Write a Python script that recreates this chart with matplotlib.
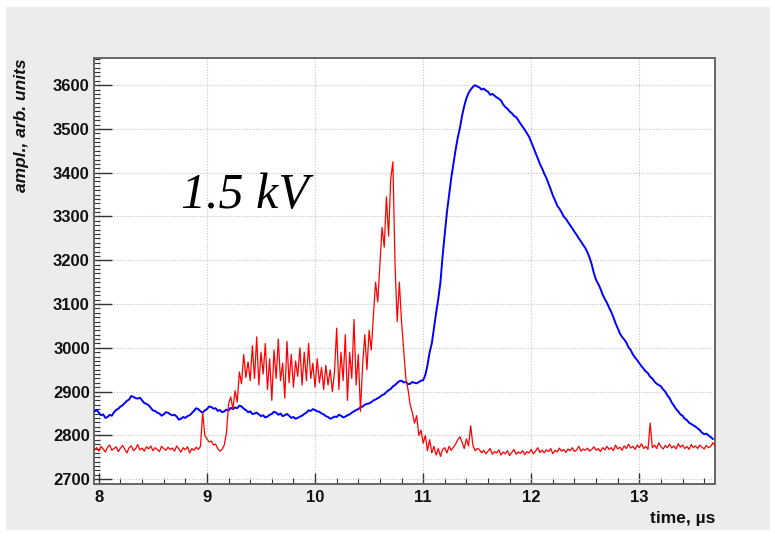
#!/usr/bin/env python3
"""Scope traces at 1.5 kV: two channels vs time."""
import numpy as np
import matplotlib
matplotlib.use('Agg')
import matplotlib.pyplot as plt
from matplotlib.patches import Rectangle
from matplotlib.ticker import MultipleLocator

# --- sampled traces -------------------------------------------------------
# blue channel, sampled every 0.02 us starting at 7.96 us
blue_t0, blue_dt = 7.96, 0.02
blue_amp = [
    2855, 2858, 2852, 2846, 2848, 2840, 2842, 2847, 2845, 2853,
    2858, 2861, 2866, 2869, 2874, 2879, 2882, 2890, 2888, 2885,
    2884, 2886, 2880, 2874, 2872, 2869, 2863, 2857, 2856, 2852,
    2850, 2845, 2848, 2853, 2852, 2848, 2846, 2847, 2843, 2836,
    2838, 2842, 2840, 2844, 2846, 2851, 2856, 2862, 2860, 2855,
    2852, 2857, 2860, 2866, 2865, 2861, 2862, 2856, 2858, 2853,
    2855, 2859, 2857, 2863, 2860, 2864, 2862, 2868, 2866, 2861,
    2858, 2853, 2855, 2849, 2850, 2852, 2848, 2844, 2846, 2841,
    2843, 2847, 2849, 2854, 2852, 2847, 2850, 2844, 2846, 2849,
    2845, 2840, 2842, 2838, 2840, 2843, 2845, 2849, 2852, 2857,
    2856, 2860, 2858, 2855, 2854, 2850, 2848, 2844, 2842, 2838,
    2840, 2843, 2842, 2847, 2845, 2841, 2843, 2846, 2848, 2852,
    2855, 2858, 2860, 2864, 2866, 2870, 2872, 2873, 2876, 2880,
    2882, 2885, 2888, 2892, 2894, 2899, 2903, 2906, 2912, 2915,
    2920, 2924, 2925, 2921, 2922, 2917, 2918, 2922, 2920, 2919,
    2922, 2925, 2926, 2938, 2960, 2990, 3010, 3045, 3080, 3112,
    3150, 3210, 3260, 3310, 3350, 3388, 3420, 3452, 3480, 3502,
    3530, 3552, 3570, 3582, 3590, 3596, 3600, 3597, 3595, 3590,
    3592, 3588, 3585, 3578, 3580, 3576, 3572, 3569, 3565, 3556,
    3550, 3546, 3540, 3536, 3530, 3527, 3520, 3512, 3505, 3498,
    3490, 3482, 3470, 3458, 3445, 3433, 3420, 3410, 3398, 3388,
    3375, 3362, 3348, 3337, 3325, 3318, 3310, 3300, 3295, 3287,
    3280, 3273, 3265, 3258, 3250, 3243, 3235, 3228, 3218, 3206,
    3190, 3170, 3155, 3146, 3135, 3122, 3112, 3103, 3092, 3082,
    3070, 3056, 3045, 3033, 3025, 3019, 3012, 3001, 2995, 2985,
    2978, 2972, 2965, 2958, 2952, 2946, 2942, 2934, 2930, 2923,
    2918, 2915, 2912, 2905, 2900, 2891, 2885, 2875, 2868, 2860,
    2855, 2848, 2845, 2838, 2835, 2829, 2826, 2823, 2820, 2816,
    2812, 2806, 2803, 2804, 2800, 2796, 2792,
]

# red channel, sampled every 0.02 us starting at 7.96 us
red_t0, red_dt = 7.96, 0.02
red_amp = [
    # 7.96 .. 8.94 baseline
    2768, 2772, 2764, 2775, 2769, 2762, 2773, 2778, 2766, 2770,
    2774, 2763, 2771, 2777, 2768, 2760, 2772, 2776, 2765, 2770,
    2779, 2767, 2771, 2764, 2774, 2769, 2776, 2765, 2772, 2768,
    2763, 2775, 2770, 2766, 2773, 2768, 2771, 2764, 2776, 2769,
    2762, 2772, 2767, 2774, 2760, 2770, 2766, 2773, 2768, 2775,
    # 8.96 .. 9.38 first spike and step up
    2852, 2800, 2792, 2785, 2787, 2778, 2780, 2770, 2764, 2768,
    2778, 2805, 2872, 2888, 2860, 2902, 2876, 2945, 2918, 2985,
    2932, 2968,
    # 9.40 .. 10.48 noisy plateau
    2925, 3005, 2930, 3025, 2915, 2990, 2940, 3010, 2905, 2975,
    2880, 2995, 2930, 3020, 2925, 2965, 2885, 3015, 2920, 2985,
    2910, 2970, 2935, 3000, 2915, 2990, 2925, 3010, 2930, 2965,
    2910, 2975, 2920, 2955, 2905, 2960, 2915, 2950, 2900, 2945,
    3045, 2905, 2990, 2925, 3030, 2880, 2990, 2930, 3065, 2915,
    2985, 2855, 2960, 3030, 2950,
    # 10.50 .. 11.00 main peak
    3040, 2995, 3075, 3150, 3105, 3190, 3275, 3230, 3345, 3255,
    3385, 3425, 3190, 3060, 3150, 3060, 2995, 2930, 2905, 2870,
    2852, 2828, 2845, 2800, 2812, 2782,
    # 11.02 .. 11.50 tail
    2800, 2765, 2790, 2760, 2775, 2755, 2770, 2752, 2768, 2772,
    2760, 2775, 2766, 2773, 2780, 2790, 2797, 2784, 2770, 2792,
    2776, 2822, 2778, 2765, 2770,
    # 11.52 .. 13.70 baseline
    2768, 2760, 2766, 2758, 2764, 2770, 2757, 2763, 2760, 2767,
    2755, 2762, 2758, 2765, 2754, 2761, 2768, 2757, 2762, 2759,
    2765, 2756, 2763, 2760, 2768, 2758, 2764, 2772, 2761, 2766,
    2760, 2767, 2763, 2770, 2758, 2766, 2762, 2771, 2764, 2768,
    2761, 2769, 2765, 2772, 2763, 2767, 2775, 2764, 2769, 2766,
    2771, 2764, 2768, 2774, 2766, 2770, 2763, 2772, 2767, 2775,
    2768, 2772, 2765, 2778, 2769, 2773, 2766, 2776, 2770, 2780,
    2771, 2775, 2768, 2778, 2772, 2781, 2770, 2775, 2768, 2828,
    2772, 2778, 2770, 2783, 2774, 2769, 2777, 2772, 2780, 2771,
    2776, 2769, 2781, 2773, 2778, 2770, 2775, 2768, 2779, 2772,
    2776, 2770, 2778, 2773, 2769, 2777, 2772, 2775, 2783, 2776,
]

voltage_label = '1.5 kV'
x_title = 'time, \u00b5s'
y_title = 'ampl., arb. units'

blue_t = np.round(blue_t0 + blue_dt * np.arange(len(blue_amp)), 3)
red_t = np.round(red_t0 + red_dt * np.arange(len(red_amp)), 3)

SANS = ['Liberation Sans', 'DejaVu Sans']

fig = plt.figure(figsize=(7.75, 5.36), dpi=100, facecolor='white')
# grey canvas behind the frame
fig.patches.append(Rectangle((6 / 775, 6 / 536), 764 / 775, 523 / 536,
                             transform=fig.transFigure, facecolor='#ececec',
                             edgecolor='none', zorder=-10))

ax = fig.add_axes([94 / 775, 1 - 484 / 536, 621 / 775, 426 / 536])
ax.set_zorder(1)
ax.set_facecolor('white')

ax.plot(blue_t, blue_amp, color='#0000ff', linewidth=1.4, zorder=3)
ax.plot(red_t, red_amp, color='#ff0000', linewidth=0.9, zorder=4)

ax.set_xlim(7.955, 13.70)
ax.set_ylim(2689, 3662)

ax.xaxis.set_major_locator(MultipleLocator(1))
ax.xaxis.set_minor_locator(MultipleLocator(0.2))
ax.yaxis.set_major_locator(MultipleLocator(100))
ax.yaxis.set_minor_locator(MultipleLocator(10))

ax.tick_params(axis='x', which='major', direction='in', length=8, width=1.0,
               color='#333333', pad=4)
ax.tick_params(axis='x', which='minor', direction='in', length=4.5, width=0.8,
               color='#333333')
ax.tick_params(axis='y', which='major', direction='in', length=13, width=1.0,
               color='#333333', pad=3)
ax.tick_params(axis='y', which='minor', direction='in', length=4.5, width=0.8,
               color='#333333')

for lab in ax.get_xticklabels() + ax.get_yticklabels():
    lab.set_family(SANS)
    lab.set_fontweight('bold')
    lab.set_fontsize(12)
    lab.set_color('#111111')

ax.grid(True, which='major', linestyle=(0, (1, 1.5)), color='#c4c4c4',
        linewidth=0.8, zorder=1)
ax.set_axisbelow(True)

for side in ['left', 'bottom', 'right', 'top']:
    ax.spines[side].set_color('#666666')
    ax.spines[side].set_linewidth(1.4)

# axis titles, ROOT-style: flush with the frame ends
fig.text(715 / 775, 1 - 518 / 536, x_title, ha='right', va='center',
         family=SANS, fontweight='bold', fontsize=12.5, color='#111111')
fig.text(22 / 775, 1 - 58 / 536, y_title, ha='center', va='top',
         rotation=90, family=SANS, fontweight='bold', style='italic',
         fontsize=12.5, color='#111111')

ax.text(8.76, 3319, voltage_label, ha='left', va='baseline',
        family=['Liberation Serif', 'DejaVu Serif'], style='italic',
        fontsize=36, color='black', zorder=5)

fig.savefig('out.png', dpi=100, facecolor=fig.get_facecolor())
